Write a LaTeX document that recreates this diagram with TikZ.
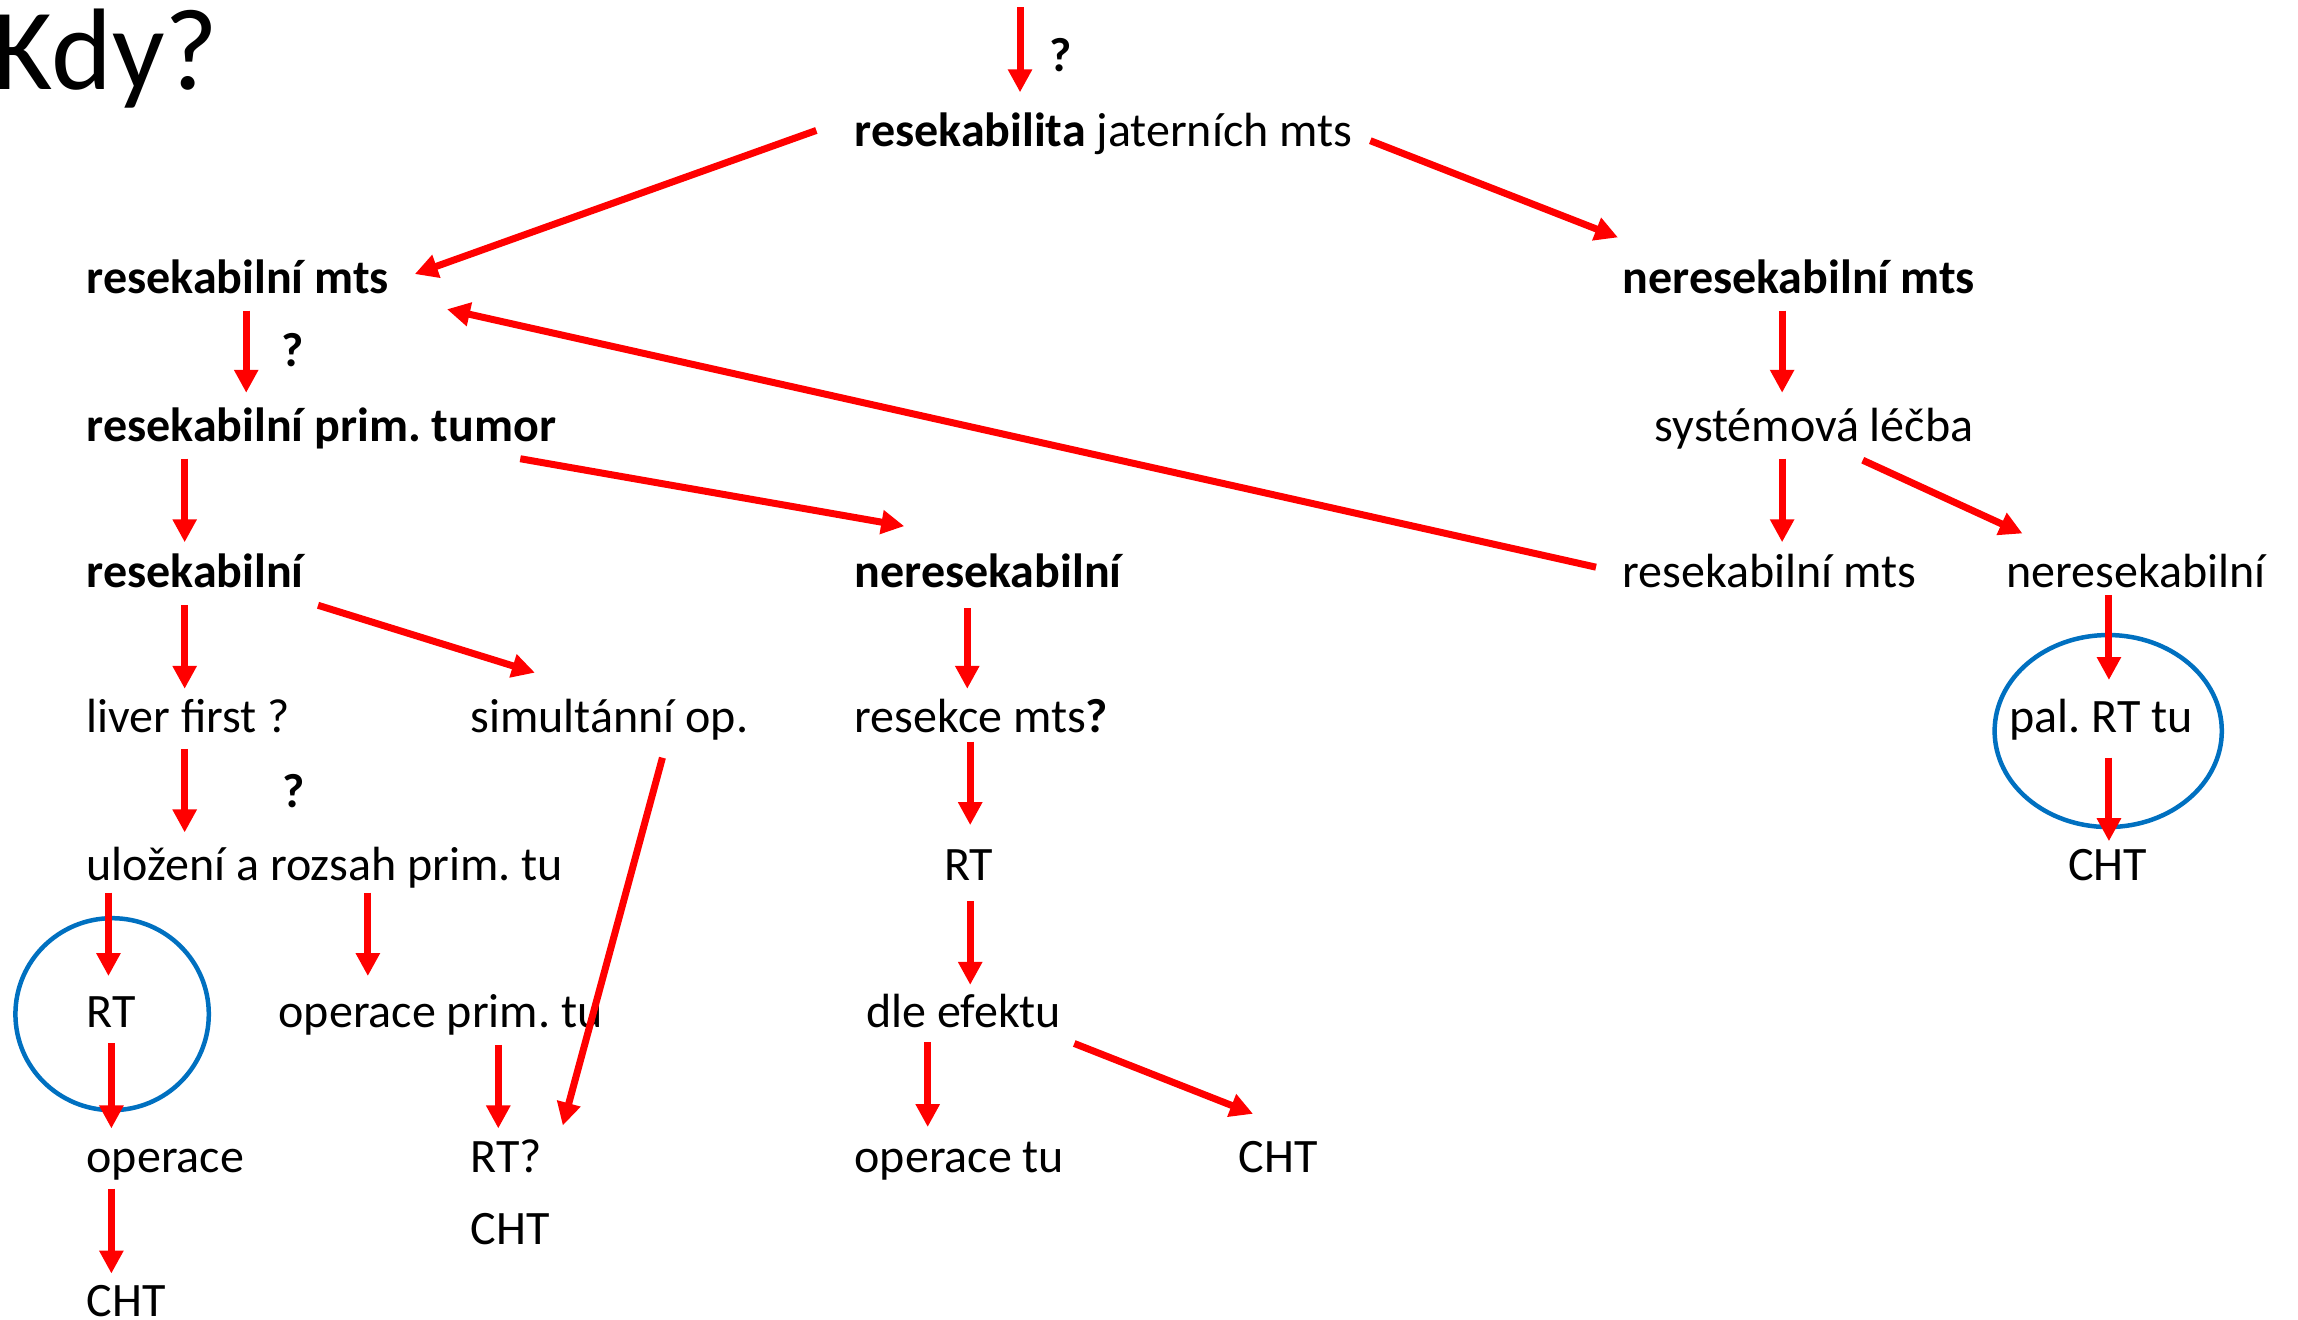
\documentclass[tikz,border=0pt]{standalone}
\usepackage{fontspec}
\setmainfont{Carlito}
\usetikzlibrary{arrows.meta}
\definecolor{arrred}{RGB}{255,0,0}
\definecolor{ringblue}{RGB}{0,112,192}
\tikzset{
  txt/.style={anchor=base west, inner sep=0pt, font=\fontsize{48pt}{58pt}\selectfont\frenchspacing, text=black},
  btxt/.style={txt, font=\fontsize{48pt}{58pt}\selectfont\frenchspacing\bfseries},
  arr/.style={draw=arrred, line width=7pt, -{Triangle[length=23pt,width=23pt]}},
  ring/.style={draw=ringblue, line width=4.5pt}
}
\begin{document}
\frenchspacing
\begin{tikzpicture}[x=1.4656pt, y=-1.4656pt]
\useasboundingbox (0,0) rectangle (1568,900);
% title
\node[anchor=base west, inner sep=0pt, font=\fontsize{116pt}{130pt}\selectfont] (title) at (-5,61) {Kdy?};
% texts
\node[btxt] (q1) at (716,49) {?};
\node[txt] (root) at (583,100) {{\bfseries resekabilita} jaterních mts};
\node[btxt] (rmts) at (59,200) {resekabilní mts};
\node[btxt] (nmts) at (1107,200) {neresekabilní mts};
\node[btxt] (q2) at (192,250) {?};
\node[btxt] (rpt) at (59,301) {resekabilní prim. tumor};
\node[txt] (sys) at (1129,301) {systémová léčba};
\node[btxt] (res) at (59,401) {resekabilní};
\node[btxt] (neres) at (583,401) {neresekabilní};
\node[txt] (rmts2) at (1107,401) {resekabilní mts};
\node[txt] (neres2) at (1369,401) {neresekabilní};
\node[txt] (liver) at (59,500) {liver first ?};
\node[txt] (simul) at (321,500) {simultánní op.};
\node[txt] (resekce) at (583,500) {resekce mts{\bfseries ?}};
\node[txt] (pal) at (1371,500) {pal. RT tu};
\node[btxt] (q3) at (192.5,551) {?};
\node[txt] (uloz) at (59,601) {uložení a rozsah prim. tu};
\node[txt] (rt1) at (644,601) {RT};
\node[txt] (cht1) at (1411,601) {CHT};
\node[txt] (rt2) at (59,701) {RT};
\node[txt] (operprim) at (190,701) {operace prim. tu};
\node[txt] (dle) at (591,701) {dle efektu};
\node[txt] (oper) at (59,800) {operace};
\node[txt] (rtq) at (321,800) {RT?};
\node[txt] (opertu) at (583,800) {operace tu};
\node[txt] (cht2) at (845,800) {CHT};
\node[txt] (cht3) at (321,849) {CHT};
\node[txt] (cht4) at (59,898) {CHT};
% rings
\draw[ring] (76.5,692) ellipse [x radius=96.7pt, y radius=96pt];
\draw[ring] (1438.5,498.8) ellipse [x radius=113.6pt, y radius=96pt];
% arrow end points
\coordinate (a1s) at (696,5);     \coordinate (a1e) at (696,63);
\coordinate (a2s) at (557,89);    \coordinate (a2e) at (283,187);
\coordinate (a3s) at (935,96);    \coordinate (a3e) at (1104,162);
\coordinate (a4s) at (168,212);   \coordinate (a4e) at (168,268);
\coordinate (a5s) at (1216,212);  \coordinate (a5e) at (1216,268);
\coordinate (a6s) at (1089,387);  \coordinate (a6e) at (305,211);
\coordinate (a7s) at (126,313);   \coordinate (a7e) at (126,370);
\coordinate (a8s) at (355,313);   \coordinate (a8e) at (617,359);
\coordinate (a9s) at (1216,313);  \coordinate (a9e) at (1216,370);
\coordinate (a10s) at (1271,314); \coordinate (a10e) at (1380,364);
\coordinate (a11s) at (217,413);  \coordinate (a11e) at (365,459);
\coordinate (a12s) at (126,413);  \coordinate (a12e) at (126,470);
\coordinate (a13s) at (660,415);  \coordinate (a13e) at (660,470);
\coordinate (a14s) at (1439,406); \coordinate (a14e) at (1439,464);
\coordinate (a15s) at (126,511);  \coordinate (a15e) at (126,568);
\coordinate (a16s) at (452,517);  \coordinate (a16e) at (384,768);
\coordinate (a17s) at (662,506);  \coordinate (a17e) at (662,563);
\coordinate (a18s) at (1439,517); \coordinate (a18e) at (1439,574);
\coordinate (a19s) at (74,609);   \coordinate (a19e) at (74,666);
\coordinate (a20s) at (251,609);  \coordinate (a20e) at (251,666);
\coordinate (a21s) at (662,615);  \coordinate (a21e) at (662,672);
\coordinate (a22s) at (76,712);   \coordinate (a22e) at (76,770);
\coordinate (a23s) at (340,713);  \coordinate (a23e) at (340,770);
\coordinate (a24s) at (633,711);  \coordinate (a24e) at (633,769);
\coordinate (a25s) at (733,712);  \coordinate (a25e) at (855,760);
\coordinate (a26s) at (76,811);   \coordinate (a26e) at (76,869);
% arrows
\foreach \i in {1,...,26} {\draw[arr] (a\i s) -- (a\i e);}
\end{tikzpicture}
\end{document}
